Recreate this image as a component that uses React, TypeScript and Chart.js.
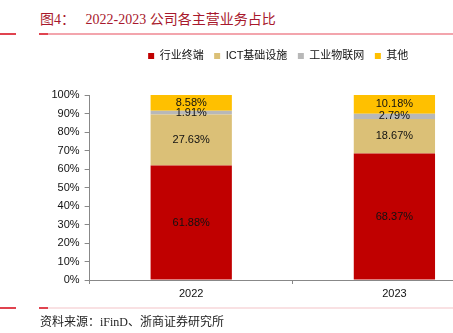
import React, { useEffect, useRef } from "react";
import { Chart, registerables } from "chart.js";

Chart.register(...registerables);

const categories = ["2022", "2023"];
const seriesNames = ["行业终端", "ICT基础设施", "工业物联网", "其他"];
const terminalValues = [61.88, 68.37];
const ictValues = [27.63, 18.67];
const iotValues = [1.91, 2.79];
const otherValues = [8.58, 10.18];
const seriesColors = ["#C00000", "#DBC077", "#B8B8B8", "#FFC000"];
const yTickMax = 100;
const yTickStep = 10;

const titleText = "图4：   2022-2023 公司各主营业务占比";
const sourceText = "资料来源：iFinD、浙商证券研究所";

const SANS = '"Liberation Sans", Arial, "Noto Sans CJK SC", sans-serif';
const SERIF = '"Liberation Serif", "Times New Roman", "Noto Sans CJK SC", serif';

const segmentLabels = {
  id: "segmentLabels",
  afterDatasetsDraw(chart: any) {
    const ctx = chart.ctx;
    ctx.save();
    ctx.font = "11px " + SANS;
    ctx.fillStyle = "#111";
    ctx.textAlign = "center";
    ctx.textBaseline = "middle";
    chart.data.datasets.forEach((ds: any, i: number) => {
      const meta = chart.getDatasetMeta(i);
      meta.data.forEach((el: any, j: number) => {
        const v = ds.data[j];
        const p = el.getProps(["x", "y", "base"], true);
        ctx.fillText(v.toFixed(2) + "%", p.x, (p.y + p.base) / 2);
      });
    });
    ctx.restore();
  },
};

const legendTweak = {
  id: "legendTweak",
  beforeInit(chart: any) {
    const orig = chart.legend.fit;
    chart.legend.fit = function () {
      orig.call(this);
      this.height = 55;
    };
  },
  afterLayout(chart: any) {
    const l = chart.legend;
    l.left += 7;
    l.right += 7;
  },
};

function Line({ top, light }: { top: number; light: string }) {
  return (
    <>
      <div style={{ position: "absolute", left: 0, top, width: 16, height: 2, background: "#E0434F" }} />
      <div style={{ position: "absolute", left: 48, top, width: 405, height: 2, background: light }} />
      <div style={{ position: "absolute", left: 39, top, width: 9, height: 2, background: "#E0434F" }} />
    </>
  );
}

export default function App() {
  const ref = useRef<HTMLCanvasElement | null>(null);

  useEffect(() => {
    if (!ref.current) return;
    const seriesData = [terminalValues, ictValues, iotValues, otherValues];
    const chart = new Chart(ref.current, {
      type: "bar",
      data: {
        labels: categories,
        datasets: seriesNames.map((name, i) => ({
          label: name,
          data: seriesData[i],
          backgroundColor: seriesColors[i],
          borderWidth: 0,
          barPercentage: 0.4,
          categoryPercentage: 1,
        })),
      },
      options: {
        responsive: false,
        animation: false,
        layout: { padding: { left: 46.5, right: 0, top: 0, bottom: 6.8 } },
        plugins: {
          tooltip: { enabled: false },
          title: { display: false },
          legend: {
            position: "top",
            align: "center",
            labels: {
              boxWidth: 6,
              boxHeight: 6,
              padding: 10.5,
              color: "#111",
              font: { size: 11, family: SANS },
            },
          },
        },
        scales: {
          x: {
            stacked: true,
            offset: true,
            grid: { display: true, drawOnChartArea: false, drawTicks: true, tickLength: 4, color: "#888", offset: true },
            border: { display: true, color: "#888", width: 1 },
            ticks: { color: "#111", padding: 3, font: { size: 11, family: SANS } },
          },
          y: {
            stacked: true,
            min: 0,
            max: yTickMax,
            grid: { display: true, drawOnChartArea: false, drawTicks: true, tickLength: 5, color: "#888" },
            border: { display: true, color: "#888", width: 1 },
            ticks: {
              stepSize: yTickStep,
              color: "#111",
              padding: 5,
              font: { size: 11, family: SANS },
              callback: (v: any) => v + "%",
            },
          },
        },
      },
      plugins: [segmentLabels, legendTweak],
    });
    return () => chart.destroy();
  }, []);

  return (
    <div style={{ position: "absolute", left: 0, top: 0, width: 453, height: 333, overflow: "hidden", background: "#fff" }}>
      <div
        style={{
          position: "absolute",
          left: 40,
          top: 10,
          fontFamily: SERIF,
          fontSize: 14,
          lineHeight: "20px",
          color: "#A8182C",
          whiteSpace: "pre",
        }}
      >
        {titleText}
      </div>
      <Line top={33} light="#F3A5AD" />
      <canvas
        ref={ref}
        width={496}
        height={270}
        style={{ position: "absolute", left: 0, top: 40, width: 496, height: 270 }}
      />
      <Line top={307} light="#F9E1E3" />
      <div
        style={{
          position: "absolute",
          left: 40,
          top: 313,
          fontFamily: SERIF,
          fontSize: 12,
          lineHeight: "18px",
          color: "#222",
          whiteSpace: "pre",
        }}
      >
        {sourceText}
      </div>
    </div>
  );
}
